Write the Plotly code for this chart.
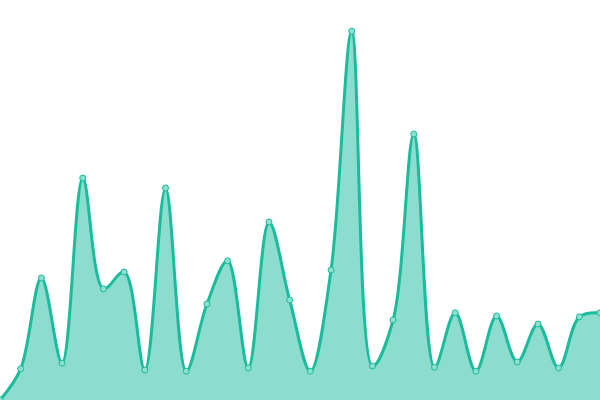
import plotly.graph_objects as go

# one value per day
days = list(range(30))
values = [0.0, 7.8, 30.5, 9.2, 55.5, 27.8, 32.0, 7.5, 53.0, 7.2,
          24.0, 34.8, 8.0, 44.5, 25.0, 7.2, 32.5, 92.2, 8.5, 20.0,
          66.5, 8.2, 21.8, 7.2, 21.0, 9.5, 19.0, 8.0, 20.8, 21.8]

line_color = '#1abc9c'
fill_color = 'rgba(26, 188, 156, 0.5)'

fig = go.Figure()

fig.add_trace(
    go.Scatter(
        x=days,
        y=values,
        mode='lines+markers',
        fill='tozeroy',
        fillcolor=fill_color,
        line=dict(color=line_color, width=3, shape='spline', smoothing=1),
        marker=dict(size=6, color='#8be0cf', line=dict(color=line_color, width=1)),
        hoverinfo='x+y'
    )
)

fig.update_layout(
    width=600,
    height=400,
    margin=dict(l=0, r=0, t=0, b=0),
    paper_bgcolor='white',
    plot_bgcolor='white',
    showlegend=False,
    xaxis=dict(range=[0, 29], visible=False, fixedrange=True),
    yaxis=dict(range=[0, 100], visible=False, fixedrange=True)
)

# page has a default 8px body margin, drop it so the plot sits at 0,0
fig.write_html(
    "out.html",
    config={'displayModeBar': False},
    post_script="document.body.style.margin = '0';"
)
